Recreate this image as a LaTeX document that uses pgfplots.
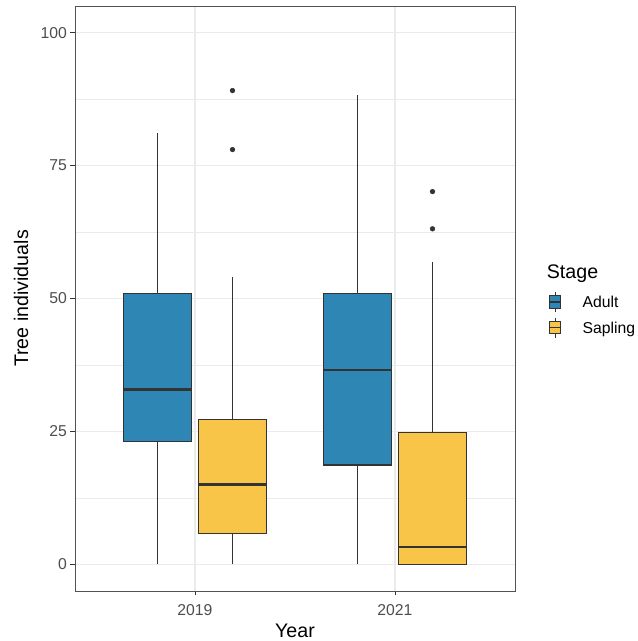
\documentclass[border=0pt]{standalone}
\usepackage{pgfplots}
\pgfplotsset{compat=1.18}
\usepackage{fontspec}
\setmainfont{Liberation Sans}
\definecolor{adult}{HTML}{2E86B4}
\definecolor{sapling}{HTML}{F9C548}
\definecolor{bord}{HTML}{333333}
\definecolor{tickc}{HTML}{4D4D4D}
\definecolor{gridc}{HTML}{EBEBEB}
\begin{document}
\begin{tikzpicture}
\path[use as bounding box] (0,0) rectangle (638bp,641bp);
\begin{axis}[
  at={(75bp,50bp)}, anchor=south west,
  scale only axis, width=440bp, height=585bp,
  xmin=0.4, xmax=2.6, ymin=-5, ymax=105,
  xtick={1,2}, xticklabels={2019,2021},
  ytick={0,25,50,75,100},
  minor ytick={12.5,37.5,62.5,87.5},
  xtick pos=left, ytick pos=left,
  xmajorgrids, ymajorgrids, yminorgrids,
  major grid style={gridc, line width=1.1bp},
  minor grid style={gridc, line width=0.7bp},
  axis line style={draw=bord!85!white, line width=0.9bp},
  tick align=outside, major tick length=4.5bp, minor tick style={draw=none},
  major tick style={draw=bord, line width=1bp},
  /pgf/number format/assume math mode=true,
  ticklabel style={font=\fontsize{15.8}{18}\selectfont, text=tickc},
  xticklabel style={yshift=-5bp},
  xlabel={Year}, ylabel={Tree individuals},
  label style={font=\fontsize{19.7}{23}\selectfont},
  xlabel style={at={(axis description cs:0.5,-0.0803)}, anchor=base},
  ylabel style={at={(axis description cs:-0.1068,0.5)}, anchor=base},
  legend cell align=left,
  legend style={at={(axis description cs:1.0773,0.5158)}, anchor=north west,
    draw=none, fill=none, inner sep=0pt, outer sep=0pt,
    row sep=0pt, column sep=0pt,
    nodes={inner sep=0pt, outer sep=0pt},
    font=\fontsize{15.8}{18}\selectfont,
    /tikz/every odd column/.append style={column sep=20.7bp},
    /tikz/every even column/.append style={text height=13bp, text depth=1bp, minimum height=25.5bp},
  },
  whisk/.style={forget plot, draw=bord, line width=1.1bp},
  med/.style={forget plot, draw=bord, line width=2.4bp},
]
% whiskers (lower whisker -> lower quartile, upper quartile -> upper whisker)
% 2019 Adult: 0 / 23.1 / 32.9 / 51.0 / 81.1
\addplot[whisk] coordinates {(0.8125,0) (0.8125,23.1)};
\addplot[whisk] coordinates {(0.8125,51.0) (0.8125,81.1)};
% 2019 Sapling: 0 / 5.85 / 15.0 / 27.2 / 54.1
\addplot[whisk] coordinates {(1.1875,0) (1.1875,5.85)};
\addplot[whisk] coordinates {(1.1875,27.2) (1.1875,54.1)};
% 2021 Adult: 0 / 18.7 / 36.6 / 51.0 / 88.2
\addplot[whisk] coordinates {(1.8125,0) (1.8125,18.7)};
\addplot[whisk] coordinates {(1.8125,51.0) (1.8125,88.2)};
% 2021 Sapling: 0 / 0 / 3.3 / 24.8 / 56.9
\addplot[whisk] coordinates {(2.1875,24.8) (2.1875,56.9)};
% boxes (width 0.3375)
\addplot[forget plot, fill=adult, draw=bord, line width=1.1bp]
  coordinates {(0.64375,23.1) (0.98125,23.1) (0.98125,51.0) (0.64375,51.0)} -- cycle;
\addplot[forget plot, fill=sapling, draw=bord, line width=1.1bp]
  coordinates {(1.01875,5.85) (1.35625,5.85) (1.35625,27.2) (1.01875,27.2)} -- cycle;
\addplot[forget plot, fill=adult, draw=bord, line width=1.1bp]
  coordinates {(1.64375,18.7) (1.98125,18.7) (1.98125,51.0) (1.64375,51.0)} -- cycle;
\addplot[forget plot, fill=sapling, draw=bord, line width=1.1bp]
  coordinates {(2.01875,0) (2.35625,0) (2.35625,24.8) (2.01875,24.8)} -- cycle;
% medians
\addplot[med] coordinates {(0.64375,32.9) (0.98125,32.9)};
\addplot[med] coordinates {(1.01875,15.0) (1.35625,15.0)};
\addplot[med] coordinates {(1.64375,36.6) (1.98125,36.6)};
\addplot[med] coordinates {(2.01875,3.3) (2.35625,3.3)};
% outliers
\addplot[forget plot, only marks, mark=*, mark size=2.4bp, draw=bord, fill=bord]
  coordinates {(1.1875,89.1) (1.1875,78.0) (2.1875,70.1) (2.1875,63.1)};
\addlegendimage{legend image code/.code={
  \draw[bord, line width=1.1bp] (5.5bp,-10bp) -- (5.5bp,10bp);
  \draw[bord, fill=adult, line width=1.1bp] (0bp,-6.3bp) rectangle (11bp,6.3bp);
  \draw[bord, line width=1.8bp] (0bp,0bp) -- (11bp,0bp);
}}
\addlegendentry{Adult}
\addlegendimage{legend image code/.code={
  \draw[bord, line width=1.1bp] (5.5bp,-10bp) -- (5.5bp,10bp);
  \draw[bord, fill=sapling, line width=1.1bp] (0bp,-6.3bp) rectangle (11bp,6.3bp);
  \draw[bord, line width=1.8bp] (0bp,0bp) -- (11bp,0bp);
}}
\addlegendentry{Sapling}
\end{axis}
\node[anchor=base west, font=\fontsize{19.7}{23}\selectfont, inner sep=0pt] at (546.7bp,362.5bp) {Stage};
\end{tikzpicture}
\end{document}
